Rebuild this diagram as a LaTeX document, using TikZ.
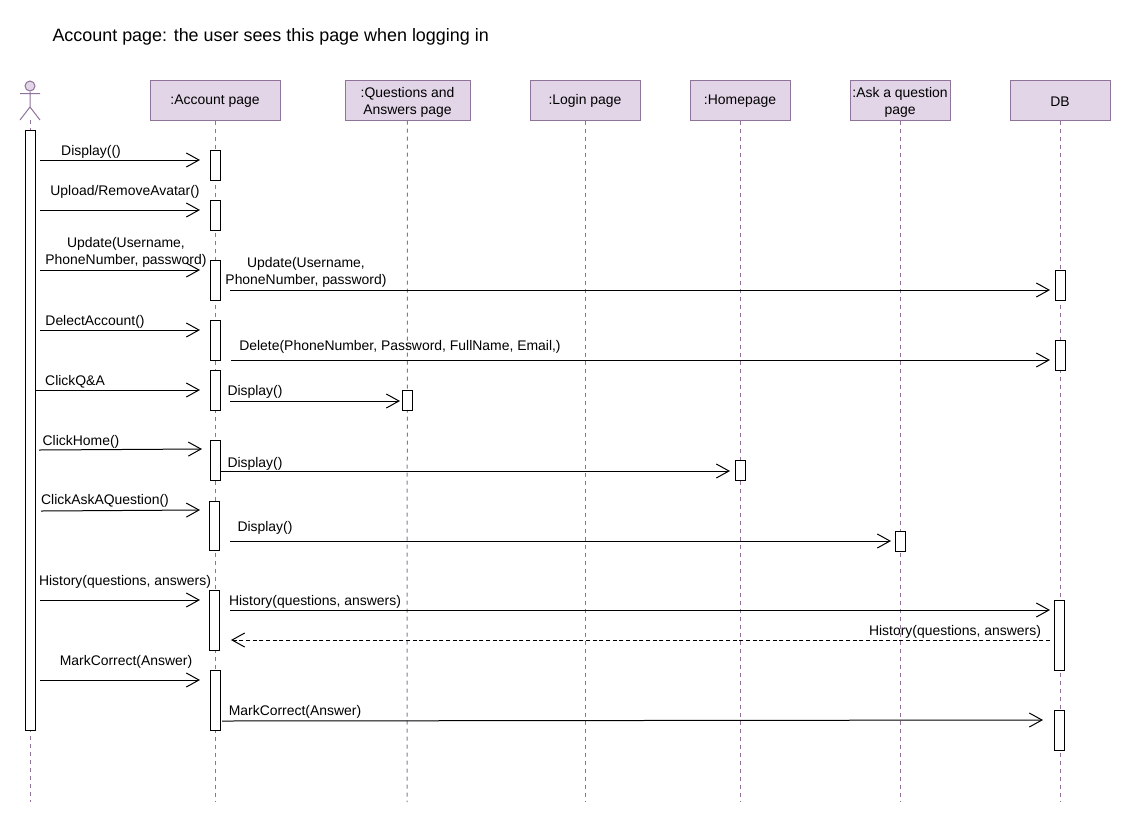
\documentclass[tikz,border=0pt]{standalone}
\usepackage{fontspec}
\setmainfont{Liberation Sans}
\usepackage{tikz}
\usetikzlibrary{arrows.meta}
\definecolor{lilac}{HTML}{E1D5E7}
\definecolor{plum}{HTML}{8F7399}
\tikzset{
  >={Straight Barb[length=9.5pt,width=10.5pt]},
  hdr/.style={rectangle,draw=plum,fill=lilac,minimum width=#1*0.75pt,minimum height=30pt,inner sep=0pt,align=center,font=\fontsize{10.45}{12.75}\selectfont,execute at begin node={\rule{0pt}{9.5pt}}},
  bar/.style={rectangle,draw,fill=white,minimum width=7.5pt,minimum height=#1*0.75pt,inner sep=0pt},
  msg/.style={->},
  ret/.style={->,dash pattern=on 3pt off 2pt},
  life/.style={draw=plum,dash pattern=on 3pt off 3pt},
  lbl/.style={inner sep=0pt,align=center,yshift=-1.5pt,font=\fontsize{10.45}{12.75}\selectfont},
  every picture/.style={line width=0.75pt},
}
\begin{document}
\begin{tikzpicture}[x=0.75pt,y=-0.75pt]
\useasboundingbox (0,0) rectangle (1131,822);
\node[lbl,anchor=west,font=\fontsize{13.45}{16}\selectfont] (title) at (52,35){Account page: the user sees this page when logging in};
% lifeline heads
\node[hdr=130] (acc) at (215,100){:Account page}; \node[hdr=125] (qa) at (407.5,100){\rule{0pt}{11pt}:Questions and\\Answers page}; \node[hdr=110] (log) at (585,100){:Login page};
\node[hdr=100] (home) at (740,100){:Homepage}; \node[hdr=100] (ask) at (900,100){\rule{0pt}{11pt}:Ask a question\\page}; \node[hdr=100] (db) at (1060,100){DB};
% actor
\node[circle,draw=plum,fill=lilac,minimum size=7.5pt,inner sep=0pt] (head) at (30,86){};
\coordinate (hip) at (30,107); \coordinate (armL) at (20,93.5); \coordinate (armR) at (40,93.5); \coordinate (legL) at (20,120); \coordinate (legR) at (40,120); \coordinate (foot) at (30,120);
\draw[plum] (head)--(hip) (armL)--(armR) (legL)--(hip)--(legR);
% lifelines
\coordinate (endU) at (30,802); \coordinate (endA) at (215,802); \coordinate (endQ) at (407,802); \coordinate (endL) at (585,802);
\coordinate (endH) at (740,802); \coordinate (endK) at (900,802); \coordinate (endD) at (1060,802);
\draw[life] (foot)--(endU); \draw[life] (acc)--(endA); \draw[life] (qa)--(endQ); \draw[life] (log)--(endL);
\draw[life] (home)--(endH); \draw[life] (ask)--(endK); \draw[life] (db)--(endD);
% activation bars
\node[bar=600] (user) at (30,430){};
\node[bar=30] (a1) at (215,165){}; \node[bar=30] (a2) at (215,215){}; \node[bar=40] (a3) at (215,280){}; \node[bar=40] (a4) at (215,340){};
\node[bar=40] (a5) at (215,390){}; \node[bar=40] (a6) at (215,460){}; \node[bar=49] (a7) at (214.5,525.5){}; \node[bar=60] (a8) at (214.5,620){}; \node[bar=60] (a9) at (215,700){};
\node[bar=20] (q1) at (407,400){}; \node[bar=20] (h1) at (740,470){}; \node[bar=20] (k1) at (900,541){};
\node[bar=30] (d1) at (1060,285){}; \node[bar=30] (d2) at (1060,355){}; \node[bar=70] (d3) at (1059,635){}; \node[bar=40] (d4) at (1059,730){};
% end points of the messages
\coordinate (s1) at (40,160); \coordinate (e1) at (200,160); \coordinate (s2) at (40,210); \coordinate (e2) at (200,210);
\coordinate (s3) at (40,270); \coordinate (e3) at (200,270); \coordinate (s4) at (40,330); \coordinate (e4) at (200,330);
\coordinate (s5) at (35,390); \coordinate (e5) at (200,390); \coordinate (s6) at (39,450); \coordinate (e6) at (202,449);
\coordinate (s7) at (41,511); \coordinate (e7) at (200,510); \coordinate (s8) at (40,600); \coordinate (e8) at (200,600);
\coordinate (s9) at (40,680); \coordinate (e9) at (200,680); \coordinate (s10) at (230,290); \coordinate (e10) at (1050,290);
\coordinate (s11) at (231,360); \coordinate (e11) at (1050,360); \coordinate (s12) at (230,401); \coordinate (e12) at (400,401);
\coordinate (s13) at (221,471); \coordinate (e13) at (730,471); \coordinate (s14) at (230,541); \coordinate (e14) at (891,541);
\coordinate (s15) at (230,610); \coordinate (e15) at (1050,610); \coordinate (s16) at (1050,640); \coordinate (e16) at (231,640);
\coordinate (s17) at (222,721); \coordinate (e17) at (1043,720);
% messages
\draw[msg] (s1)--(e1); \draw[msg] (s2)--(e2); \draw[msg] (s3)--(e3); \draw[msg] (s4)--(e4); \draw[msg] (s5)--(e5); \draw[msg] (s6)--(e6);
\draw[msg] (s7)--(e7); \draw[msg] (s8)--(e8); \draw[msg] (s9)--(e9); \draw[msg] (s10)--(e10); \draw[msg] (s11)--(e11); \draw[msg] (s12)--(e12);
\draw[msg] (s13)--(e13); \draw[msg] (s14)--(e14); \draw[msg] (s15)--(e15); \draw[ret] (s16)--(e16); \draw[msg] (s17)--(e17);
% message labels
\node[lbl] (t1) at (91,150){Display(()}; \node[lbl] (t2) at (125,190){Upload/RemoveAvatar()}; \node[lbl] (t3) at (126,250){Update(Username,\\PhoneNumber, password)};
\node[lbl] (t4) at (95,320){DelectAccount()}; \node[lbl] (t5) at (75,380){ClickQ\&A}; \node[lbl] (t6) at (81,440){ClickHome()}; \node[lbl] (t7) at (105,499){ClickAskAQuestion()};
\node[lbl] (t8) at (125,580){History(questions, answers)}; \node[lbl] (t9) at (126,660){MarkCorrect(Answer)};
\node[lbl] (t10) at (306,270){Update(Username,\\PhoneNumber, password)}; \node[lbl] (t11) at (400,345){Delete(PhoneNumber, Password, FullName, Email,)};
\node[lbl] (t12) at (255,390){Display()}; \node[lbl] (t13) at (255,462){Display()}; \node[lbl] (t14) at (265,526){Display()};
\node[lbl] (t15) at (315,600){History(questions, answers)}; \node[lbl] (t16) at (955,630){History(questions, answers)}; \node[lbl] (t17) at (295,710){MarkCorrect(Answer)};
\end{tikzpicture}
\end{document}
